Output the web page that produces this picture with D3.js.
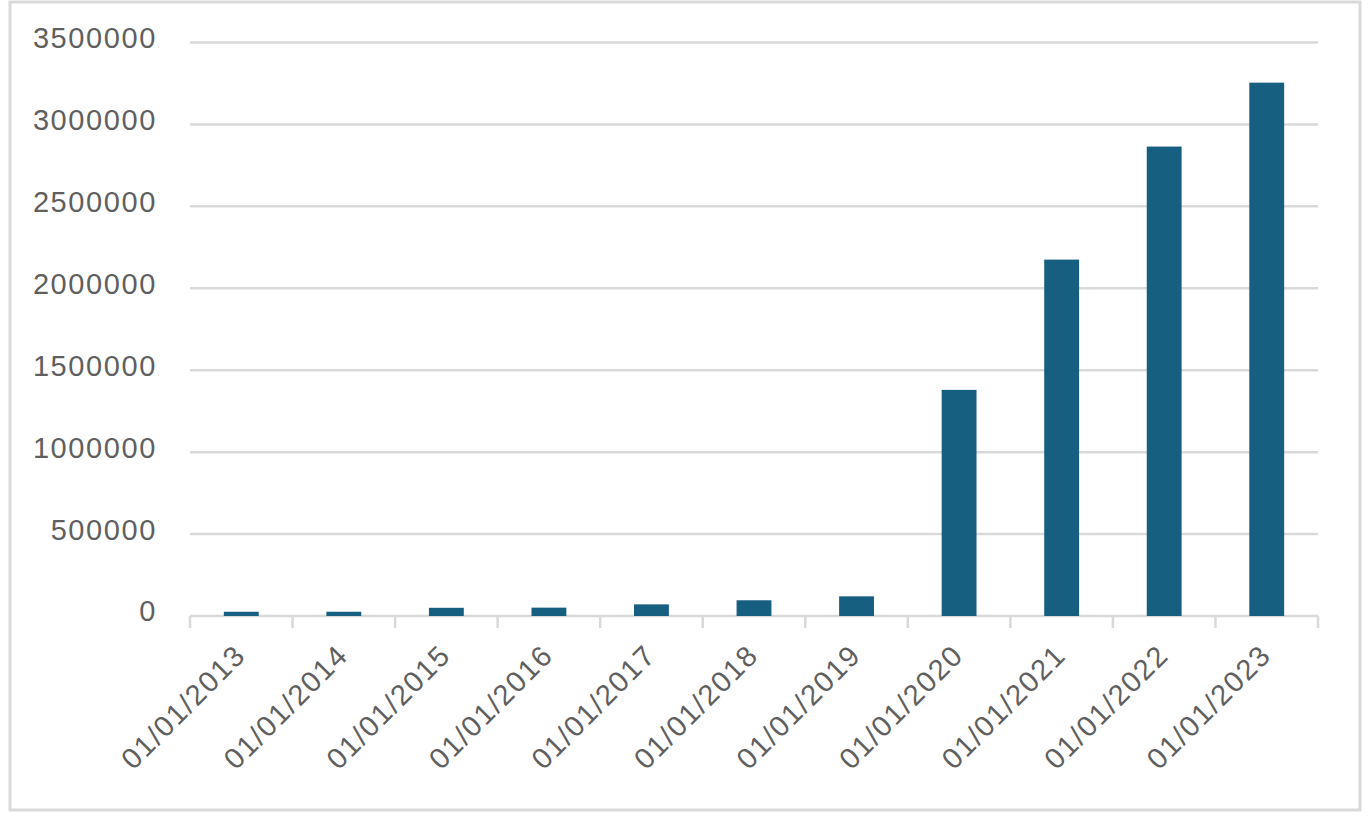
<!DOCTYPE html>
<html>
<head>
<meta charset="utf-8">
<script src="https://cdn.jsdelivr.net/npm/d3@7"></script>
<style>
  body { margin: 0; background: #fff; }
  text { font-family: "Liberation Sans", Arial, sans-serif; fill: #5f5f5f; }
</style>
</head>
<body>
<script>
const dates = ["01/01/2013", "01/01/2014", "01/01/2015", "01/01/2016", "01/01/2017", "01/01/2018",
    "01/01/2019", "01/01/2020", "01/01/2021", "01/01/2022", "01/01/2023"];
const counts = [26000, 26000, 50000, 51000, 71000, 96000, 120000, 1380000, 2175000, 2865000, 3255000];
const yTicks = [0, 500000, 1000000, 1500000, 2000000, 2500000, 3000000, 3500000];

const width = 1370, height = 816;
const plotLeft = 190, plotRight = 1318, plotTop = 42.5, plotBottom = 616;

const svg = d3.select("body").append("svg")
    .attr("width", width).attr("height", height);

// outer frame
svg.append("rect")
    .attr("x", 10).attr("y", 2).attr("width", 1350).attr("height", 808)
    .attr("fill", "none").attr("stroke", "#d9d9d9").attr("stroke-width", 3);

const x = d3.scaleBand().domain(dates).range([plotLeft, plotRight]).paddingInner(0.66).paddingOuter(0.33);
const y = d3.scaleLinear().domain([0, 3500000]).range([plotBottom, plotTop]);

// grid lines
svg.append("g").selectAll("line").data(yTicks).join("line")
    .attr("x1", plotLeft).attr("x2", plotRight)
    .attr("y1", d => y(d)).attr("y2", d => y(d))
    .attr("stroke", "#d9d9d9").attr("stroke-width", 2.5);

// y labels
svg.append("g").selectAll("text").data(yTicks).join("text")
    .attr("x", 157).attr("y", d => y(d) - 5)
    .attr("dy", "0.36em")
    .attr("text-anchor", "end")
    .style("font-size", "29px").style("letter-spacing", "1.6px")
    .text(d => d);

// tick marks on category axis (band boundaries)
const boundaries = d3.range(dates.length + 1).map(i => plotLeft + i * (plotRight - plotLeft) / dates.length);
svg.append("g").selectAll("line").data(boundaries).join("line")
    .attr("x1", d => d).attr("x2", d => d)
    .attr("y1", plotBottom).attr("y2", plotBottom + 12)
    .attr("stroke", "#d9d9d9").attr("stroke-width", 2.5);

// bars
svg.append("g").selectAll("rect").data(counts).join("rect")
    .attr("x", (d, i) => x(dates[i]))
    .attr("width", x.bandwidth())
    .attr("y", d => y(d))
    .attr("height", d => y(0) - y(d))
    .attr("fill", "#175f80");

// x labels
svg.append("g").selectAll("text").data(dates).join("text")
    .attr("transform", d => `translate(${x(d) + x.bandwidth() / 2 + 6},657) rotate(-45)`)
    .attr("text-anchor", "end")
    .style("font-size", "29px").style("letter-spacing", "1.6px")
    .text(d => d);
</script>
</body>
</html>
